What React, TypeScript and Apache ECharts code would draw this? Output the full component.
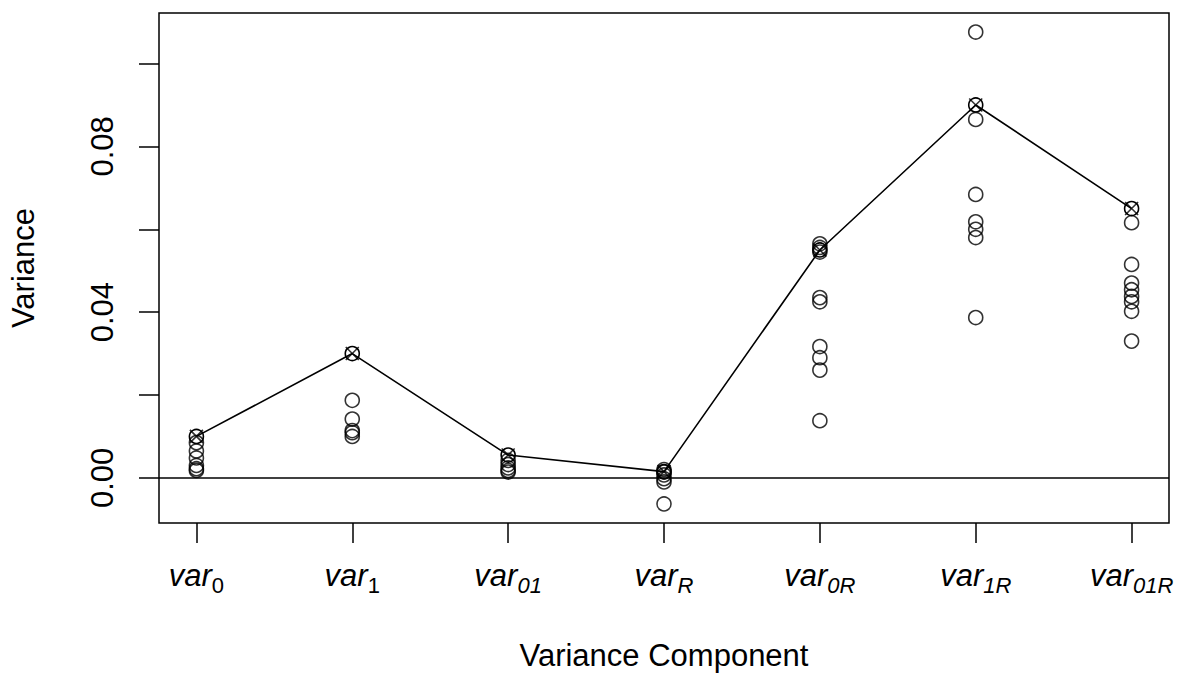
import React, { useEffect, useRef } from "react";
import * as echarts from "echarts";

const componentSubs = ["0", "1", "01", "R", "0R", "1R", "01R"];
const subItalic = [false, false, true, true, true, true, true];
const positions = [1, 2, 3, 4, 5, 6, 7];
const trueValues = [0.01, 0.03, 0.0055, 0.0015, 0.055, 0.09, 0.065];

const est0 = [0.0085, 0.0065, 0.0048, 0.003, 0.0022, 0.0018];
const est1 = [0.0187, 0.0142, 0.0114, 0.0109, 0.01];
const est01 = [0.0042, 0.0032, 0.0024, 0.0018, 0.0014];
const estR = [0.002, 0.0014, 0.0007, -0.0002, -0.001, -0.0063];
const est0R = [0.0565, 0.0556, 0.0545, 0.0435, 0.0425, 0.0317, 0.029, 0.026, 0.0138];
const est1R = [0.1076, 0.0865, 0.0684, 0.0618, 0.06, 0.058, 0.0387];
const est01R = [0.0616, 0.0515, 0.047, 0.0454, 0.0438, 0.0425, 0.0402, 0.033];

const estimates = [est0, est1, est01, estR, est0R, est1R, est01R];
const yTicks = [0, 0.02, 0.04, 0.06, 0.08, 0.1];
const yLabels = [0, 0.04, 0.08];

const FONT = "Liberation Sans, Arial, sans-serif";

export default function App() {
  const ref = useRef<HTMLDivElement>(null);
  useEffect(() => {
    document.body.style.margin = "0";
    const chart = echarts.init(ref.current!, null, { renderer: "svg" });
    const scatterData: number[][] = [];
    estimates.forEach((arr, i) => arr.forEach((v) => scatterData.push([positions[i], v])));
    const truthData = positions.map((p, i) => [p, trueValues[i]]);
    chart.setOption({
      animation: false,
      textStyle: { fontFamily: FONT, color: "#000" },
      grid: {
        left: 159,
        right: 13,
        top: 13,
        bottom: 155,
        show: true,
        borderColor: "#000",
        borderWidth: 1.5,
        backgroundColor: "transparent",
      },
      xAxis: {
        type: "value",
        min: 0.76,
        max: 7.24,
        name: "Variance Component",
        nameLocation: "middle",
        nameGap: 117,
        nameTextStyle: { fontSize: 31, color: "#000", fontFamily: FONT },
        axisLine: { show: false, onZero: false },
        splitLine: { show: false },
        axisTick: {
          show: true,
          length: 20,
          customValues: positions,
          lineStyle: { color: "#000", width: 1.5 },
        },
        axisLabel: {
          customValues: positions,
          margin: 34,
          color: "#000",
          formatter: (v: number) => {
            const i = Math.round(v) - 1;
            return `{v|var}{${subItalic[i] ? "si" : "su"}|${componentSubs[i]}}`;
          },
          rich: {
            v: { fontSize: 31, fontStyle: "italic", fontFamily: FONT, lineHeight: 36, color: "#000" },
            su: { fontSize: 22, fontFamily: FONT, lineHeight: 22, padding: [20, 0, 0, 0], color: "#000" },
            si: { fontSize: 22, fontStyle: "italic", fontFamily: FONT, lineHeight: 22, padding: [20, 0, 0, 0], color: "#000" },
          },
        },
      },
      yAxis: {
        type: "value",
        min: -0.0109,
        max: 0.1122,
        name: "Variance",
        nameLocation: "middle",
        nameRotate: 90,
        nameGap: 120,
        nameTextStyle: { fontSize: 31, color: "#000", fontFamily: FONT },
        axisLine: { show: false, onZero: false },
        splitLine: { show: false },
        axisTick: {
          show: true,
          length: 20,
          customValues: yTicks,
          lineStyle: { color: "#000", width: 1.5 },
        },
        axisLabel: {
          customValues: yLabels,
          rotate: 90,
          margin: 41,
          fontSize: 31,
          color: "#000",
          fontFamily: FONT,
          formatter: (v: number) => v.toFixed(2),
        },
      },
      series: [
        {
          type: "scatter",
          data: scatterData,
          symbol: "circle",
          symbolSize: 14,
          itemStyle: { color: "rgba(0,0,0,0)", borderColor: "#000", borderWidth: 1.6 },
          markLine: {
            silent: true,
            symbol: ["none", "none"],
            label: { show: false },
            lineStyle: { color: "#000", type: "solid", width: 1.6 },
            data: [{ yAxis: 0 }],
          },
        },
        {
          type: "line",
          data: truthData,
          symbol: "circle",
          symbolSize: 14,
          lineStyle: { color: "#000", width: 1.6 },
          itemStyle: { color: "rgba(0,0,0,0)", borderColor: "#000", borderWidth: 1.6 },
        },
        {
          type: "scatter",
          data: truthData,
          symbol: "path://M0,0L10,10M10,0L0,10",
          symbolSize: 13,
          itemStyle: { color: "rgba(0,0,0,0)", borderColor: "#000", borderWidth: 1.6 },
        },
      ],
    });
    return () => chart.dispose();
  }, []);
  return <div ref={ref} style={{ width: 1182, height: 678 }} />;
}
